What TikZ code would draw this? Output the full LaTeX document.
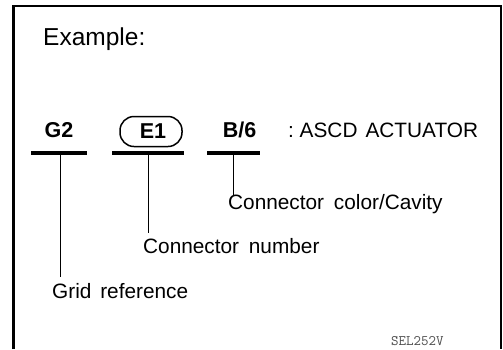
\documentclass[tikz,border=0pt]{standalone}
\usepackage{fontspec}
\setmainfont{Liberation Sans}
\begin{document}
\begin{tikzpicture}[x=1pt,y=-1pt,
  frame/.style={line width=2.6pt},
  bar/.style={line width=4.5pt},
  leader/.style={line width=1pt},
  lbl/.style={inner sep=0pt,anchor=base west,font=\fontsize{20.8}{24}\selectfont},
  code/.style={inner sep=0pt,anchor=base,font=\fontsize{21.5}{24}\selectfont\bfseries},
  oval/.style={draw,line width=1.5pt,rounded corners=14pt,minimum width=62pt,minimum height=30pt,inner sep=0pt}]
\useasboundingbox (0,0) rectangle (503,349);
% frame
\coordinate (fl) at (13.5,349);
\coordinate (ftl) at (13.5,6);
\coordinate (ftr) at (501,6);
\coordinate (fr) at (501,349);
\draw[frame] (fl) -- (ftl) -- (ftr) -- (fr);
% title
\node[lbl,font=\fontsize{24.5}{28}\selectfont] (ex) at (43,45) {Example:};
% codes
\node[code] (g2) at (59,137) {G2};
\node[oval] (e1box) at (151,131.5) {};
\node[code] (e1) at (153,138) {E1};
\node[code] (b6) at (239.5,137) {B/6};
\node[lbl] (desc) at (288,137) {:\ ASCD\hspace{8pt}ACTUATOR};
% bars
\coordinate (g2l) at (31,153); \coordinate (g2r) at (87,153);
\coordinate (e1l) at (112,153); \coordinate (e1r) at (184,153);
\coordinate (b6l) at (207,153); \coordinate (b6r) at (260,153);
\draw[bar] (g2l) -- (g2r);
\draw[bar] (e1l) -- (e1r);
\draw[bar] (b6l) -- (b6r);
% labels
\node[lbl] (cc) at (228,209) {Connector\hspace{4pt} color/Cavity};
\node[lbl] (cn) at (143,253) {Connector\hspace{4pt} number};
\node[lbl] (gr) at (52,298) {Grid\hspace{3pt} reference};
% leaders
\coordinate (g2t) at (60,153); \coordinate (g2b) at (60,277);
\coordinate (e1t) at (148,153); \coordinate (e1b) at (148,233);
\coordinate (b6t) at (233,153); \coordinate (b6b) at (233,195);
\draw[leader] (g2t) -- (g2b);
\draw[leader] (e1t) -- (e1b);
\draw[leader] (b6t) -- (b6b);
% figure code
\node[inner sep=0pt,anchor=base west,text=black!70,font=\ttfamily\fontsize{14.5}{16}\selectfont] (sel) at (391,345) {SEL252V};
\end{tikzpicture}
\end{document}
